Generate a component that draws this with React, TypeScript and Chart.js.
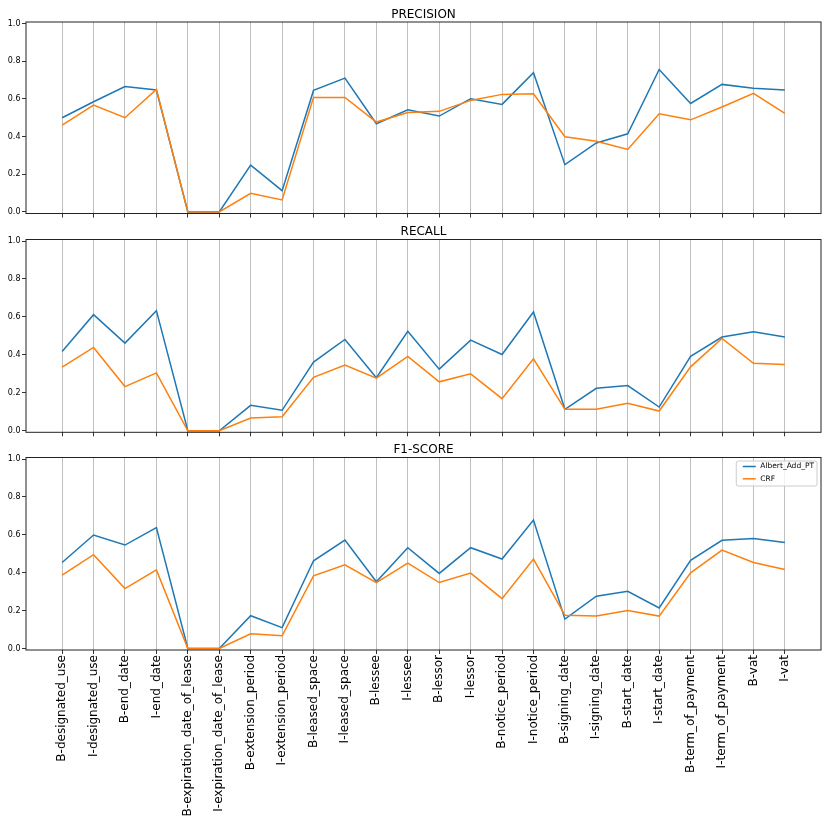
import { useEffect, useRef } from 'react'
import { Chart, registerables } from 'chart.js'

Chart.register(...registerables)
Chart.defaults.font.family = '"DejaVu Sans", sans-serif'

const categories = [
  'B-designated_use', 'I-designated_use', 'B-end_date', 'I-end_date',
  'B-expiration_date_of_lease', 'I-expiration_date_of_lease',
  'B-extension_period', 'I-extension_period', 'B-leased_space', 'I-leased_space',
  'B-lessee', 'I-lessee', 'B-lessor', 'I-lessor', 'B-notice_period', 'I-notice_period',
  'B-signing_date', 'I-signing_date', 'B-start_date', 'I-start_date',
  'B-term_of_payment', 'I-term_of_payment', 'B-vat', 'I-vat',
]

const seriesNames = ['Albert_Add_PT', 'CRF']

const precisionAlbert = [0.50, 0.585, 0.666, 0.647, 0, 0, 0.249, 0.113, 0.645, 0.710, 0.468, 0.542, 0.509, 0.601, 0.571, 0.739, 0.251, 0.366, 0.415, 0.756, 0.576, 0.677, 0.657, 0.647]
const precisionCrf = [0.461, 0.567, 0.50, 0.650, 0, 0, 0.099, 0.064, 0.608, 0.608, 0.477, 0.528, 0.534, 0.592, 0.624, 0.627, 0.399, 0.375, 0.332, 0.521, 0.489, 0.557, 0.629, 0.523]

const recallAlbert = [0.418, 0.612, 0.462, 0.633, 0, 0, 0.134, 0.108, 0.362, 0.481, 0.280, 0.524, 0.325, 0.478, 0.402, 0.626, 0.113, 0.224, 0.238, 0.125, 0.392, 0.494, 0.522, 0.494]
const recallCrf = [0.335, 0.439, 0.233, 0.305, 0, 0, 0.067, 0.074, 0.282, 0.346, 0.277, 0.392, 0.258, 0.300, 0.169, 0.379, 0.113, 0.113, 0.145, 0.104, 0.337, 0.487, 0.356, 0.349]

const f1Albert = [0.454, 0.599, 0.546, 0.638, 0, 0, 0.173, 0.110, 0.463, 0.572, 0.352, 0.532, 0.396, 0.532, 0.472, 0.678, 0.155, 0.276, 0.302, 0.214, 0.465, 0.571, 0.581, 0.560]
const f1Crf = [0.387, 0.495, 0.316, 0.415, 0, 0, 0.078, 0.067, 0.383, 0.442, 0.348, 0.451, 0.348, 0.398, 0.263, 0.472, 0.175, 0.171, 0.200, 0.171, 0.399, 0.519, 0.454, 0.417]

const yTicks = [0, 0.2, 0.4, 0.6, 0.8, 1.0]

const colors = ['#1f77b4', '#ff7f0e']

// frame + title drawn around the plot area, matplotlib style
const framePlugin = {
  id: 'frame',
  afterDraw(chart: any, _args: any, opts: any) {
    const { ctx, chartArea } = chart
    ctx.save()
    ctx.strokeStyle = '#222'
    ctx.lineWidth = 1
    ctx.strokeRect(chartArea.left, chartArea.top, chartArea.right - chartArea.left, chartArea.bottom - chartArea.top)
    if (opts.title) {
      ctx.fillStyle = '#000'
      ctx.font = '12px "DejaVu Sans"'
      ctx.textAlign = 'center'
      ctx.textBaseline = 'alphabetic'
      ctx.fillText(opts.title, (chartArea.left + chartArea.right) / 2, chartArea.top - 4.5)
    }
    ctx.restore()
  },
}

const boxLegendPlugin = {
  id: 'boxLegend',
  afterDraw(chart: any, _args: any, opts: any) {
    if (!opts.show) return
    const { ctx, chartArea } = chart
    const sets = chart.data.datasets
    ctx.save()
    ctx.font = '7.5px "DejaVu Sans"'
    const textW = Math.max(...sets.map((d: any) => ctx.measureText(d.label).width))
    const w = textW + 27
    const h = 25
    const x = chartArea.right - 4 - w
    const y = chartArea.top + 3.5
    ctx.fillStyle = 'rgba(255,255,255,0.8)'
    ctx.strokeStyle = '#cccccc'
    ctx.lineWidth = 1
    ctx.beginPath()
    ctx.roundRect(x, y, w, h, 2)
    ctx.fill()
    ctx.stroke()
    sets.forEach((d: any, i: number) => {
      const cy = y + 5.5 + i * 12.3
      ctx.strokeStyle = d.borderColor
      ctx.lineWidth = 1.5
      ctx.beginPath()
      ctx.moveTo(x + 6.5, cy)
      ctx.lineTo(x + 19.5, cy)
      ctx.stroke()
      ctx.fillStyle = '#000'
      ctx.textAlign = 'left'
      ctx.textBaseline = 'middle'
      ctx.fillText(d.label, x + 24, cy)
    })
    ctx.restore()
  },
}

const noPadding = (scale: any) => {
  scale.paddingTop = 0
  scale.paddingBottom = 0
  scale.paddingLeft = 0
  scale.paddingRight = 0
}

type PanelProps = {
  title: string
  albert: number[]
  crf: number[]
  top: number
  height: number
  padTop: number
  xAxisHeight: number
  showLabels?: boolean
  showLegend?: boolean
}

const Panel = ({ title, albert, crf, top, height, padTop, xAxisHeight, showLabels, showLegend }: PanelProps) => {
  const canvasRef = useRef<HTMLCanvasElement>(null)

  useEffect(() => {
    if (!canvasRef.current) return
    const chart = new Chart(canvasRef.current, {
      type: 'line',
      data: {
        datasets: [
          {
            label: seriesNames[0],
            data: albert.map((v, i) => ({ x: i, y: v })),
            borderColor: colors[0],
            backgroundColor: colors[0],
            borderWidth: 1.5,
            pointRadius: 0,
            tension: 0,
            order: 2,
          },
          {
            label: seriesNames[1],
            data: crf.map((v, i) => ({ x: i, y: v })),
            borderColor: colors[1],
            backgroundColor: colors[1],
            borderWidth: 1.5,
            pointRadius: 0,
            tension: 0,
            order: 1,
          },
        ],
      },
      options: {
        responsive: false,
        animation: false,
        layout: { padding: { top: padTop, left: 0, right: 9, bottom: 0 } },
        plugins: {
          legend: { display: false },
          tooltip: { enabled: false },
          frame: { title },
          boxLegend: { show: !!showLegend },
        } as any,
        scales: {
          x: {
            type: 'linear',
            min: -1.15,
            max: 24.15,
            afterBuildTicks: (scale: any) => {
              scale.ticks = categories.map((_, i) => ({ value: i }))
            },
            afterFit: (scale: any) => {
              scale.height = xAxisHeight
              noPadding(scale)
            },
            grid: { color: '#b0b0b0', lineWidth: 0.8, tickColor: '#000', tickLength: 4, tickWidth: 0.8 },
            border: { display: false },
            ticks: {
              display: !!showLabels,
              autoSkip: false,
              maxRotation: 90,
              minRotation: 90,
              padding: 1,
              color: '#000',
              font: { size: 12 },
              callback: (v: any) => categories[v] ?? '',
            },
          },
          y: {
            type: 'linear',
            min: -0.008,
            max: 1.008,
            afterBuildTicks: (scale: any) => {
              scale.ticks = yTicks.map(v => ({ value: v }))
            },
            afterFit: (scale: any) => {
              scale.width = 26
              noPadding(scale)
            },
            grid: { drawOnChartArea: false, tickColor: '#000', tickLength: 4, tickWidth: 0.8 },
            border: { display: false },
            ticks: {
              padding: 1.5,
              color: '#000',
              font: { size: 8 },
              callback: (v: any) => Number(v).toFixed(1),
            },
          },
        },
      },
      plugins: [framePlugin, boxLegendPlugin],
    })
    return () => chart.destroy()
  }, [title, albert, crf, padTop, xAxisHeight, showLabels, showLegend])

  return (
    <div style={{ position: 'absolute', left: 0, top, width: 830, height }}>
      <canvas ref={canvasRef} width={830} height={height} />
    </div>
  )
}

export default function App() {
  return (
    <div style={{ position: 'absolute', left: 0, top: 0, width: 830, height: 830, background: '#fff' }}>
      <Panel title="PRECISION" albert={precisionAlbert} crf={precisionCrf} top={0} height={218} padTop={22} xAxisHeight={4.5} />
      <Panel title="RECALL" albert={recallAlbert} crf={recallCrf} top={218} height={219} padTop={21.5} xAxisHeight={4.7} />
      <Panel title="F1-SCORE" albert={f1Albert} crf={f1Crf} top={437} height={393} padTop={20.5} xAxisHeight={180} showLabels showLegend />
    </div>
  )
}
